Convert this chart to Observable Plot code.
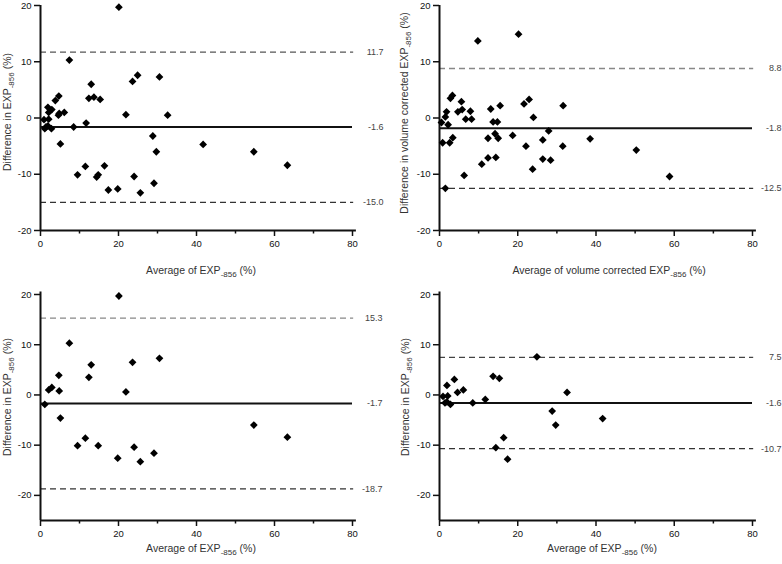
<!DOCTYPE html>
<html><head><meta charset="utf-8">
<script src="https://cdn.jsdelivr.net/npm/d3@7"></script>
<script src="https://cdn.jsdelivr.net/npm/@observablehq/plot@0.6"></script>
<style>
body{margin:0;background:#fff;}
#fig{position:relative;width:782px;height:564px;overflow:hidden;font-family:"Liberation Sans",Arial,sans-serif;background:#fff;}
.panel{position:absolute;}
.lab{position:absolute;font-size:10.5px;color:#333;white-space:nowrap;line-height:1;}
.lab sub{font-size:8px;vertical-align:-3px;line-height:0;}
.ylab{transform:translate(-50%,-50%) rotate(-90deg);}
.xlab{transform:translate(-50%,-50%);}
</style></head>
<body>
<div id="fig"></div>
<script>
// ---- Data ----
// Group A (bottom-left panel)
const avgA  = [20.1, 7.4, 13.0, 23.6, 30.5, 12.4, 4.7, 4.8, 2.1, 2.9, 21.9, 1.1, 5.1, 9.5, 11.5, 14.8, 19.8, 24.0, 25.6, 29.1, 54.7, 63.3];
const diffA = [19.7, 10.3, 6.0, 6.5, 7.3, 3.5, 3.9, 0.8, 1.0, 1.5, 0.6, -1.9, -4.6, -10.1, -8.6, -10.1, -12.6, -10.4, -13.3, -11.6, -6.0, -8.4];
// Group B (bottom-right panel)
const avgB  = [24.9, 13.7, 15.3, 3.8, 6.1, 4.6, 1.9, 32.6, 0.9, 2.1, 1.4, 1.9, 2.8, 8.5, 11.7, 28.8, 29.7, 16.4, 14.4, 17.4, 41.7];
const diffB = [7.6, 3.7, 3.3, 3.1, 1.0, 0.5, 1.9, 0.5, -0.3, -0.2, -1.6, -1.4, -1.9, -1.6, -0.9, -3.2, -6.0, -8.5, -10.5, -12.8, -4.7];
// Volume corrected (top-right panel)
const avgVol  = [20.2, 9.8, 3.3, 2.8, 5.6, 22.9, 21.6, 31.6, 15.5, 13.1, 5.8, 4.7, 7.9, 1.8, 1.5, 24.0, 6.7, 8.2, 0.5, 2.2, 13.7, 14.8, 27.9, 3.4, 12.4, 14.2, 15.0, 18.7, 26.4, 38.5, 0.8, 2.6, 6.3, 1.5, 10.8, 12.4, 14.4, 22.1, 23.8, 26.4, 28.4, 31.5, 50.3, 58.8];
const diffVol = [14.9, 13.7, 4.0, 3.5, 2.9, 3.3, 2.5, 2.2, 2.2, 1.6, 1.5, 1.1, 1.2, 1.1, 0.2, 0.1, -0.2, -0.2, -0.8, -1.2, -0.7, -0.7, -2.3, -3.5, -3.6, -2.8, -3.6, -3.1, -3.9, -3.7, -4.4, -4.4, -10.2, -12.5, -8.2, -7.1, -7.0, -5.0, -9.1, -7.3, -7.5, -5.0, -5.7, -10.4];
// Limits of agreement [upper, mean, lower]
const loaAll = [11.7, -1.6, -15.0];
const loaVol = [8.8, -1.8, -12.5];
const loaA   = [15.3, -1.7, -18.7];
const loaB   = [7.5, -1.6, -10.7];
// Tick values
const xTicks = [0, 20, 40, 60, 80];
const xMinor = [10, 30, 50, 70];
const yTicks = [-20, -10, 0, 10, 20];

const fig = document.getElementById("fig");

function panel(o) {
  const pts = o.avg.map((a, i) => ({avg: a, diff: o.diff[i]}));
  const p = Plot.plot({
    width: o.width, height: o.height,
    marginLeft: o.ml, marginRight: o.mr, marginTop: o.mt, marginBottom: o.mb,
    x: {domain: [0, 80]},
    y: {domain: o.yDomain},
    style: {fontFamily: "Liberation Sans, Arial, sans-serif", fontSize: "9.5px", color: "#111", background: "transparent", overflow: "visible"},
    marks: [
      Plot.ruleY([o.loa[0]], {x1: 0, x2: 80.3, stroke: o.upperColor, strokeWidth: 1.3, strokeDasharray: "6,4"}),
      Plot.ruleY([o.loa[2]], {x1: 0, x2: 80.3, stroke: "#333", strokeWidth: 1.2, strokeDasharray: "6,4"}),
      Plot.ruleY([o.loa[1]], {x1: 0, x2: 80, stroke: "#111", strokeWidth: 2}),
      Plot.text(o.loa, {x: 80, y: d => d, text: d => d.toFixed(1), dx: o.labDx, textAnchor: "end", fontSize: 9, fill: "#444"}),
      Plot.axisX({ticks: xTicks, tickSize: 6, tickPadding: 4, tickFormat: d => String(d), label: null, strokeWidth: 1.5}),
      Plot.axisX({ticks: xMinor, tickSize: 3.5, tickFormat: () => "", label: null, strokeWidth: 1.5}),
      Plot.axisY({ticks: yTicks, tickSize: 6, tickPadding: 3, tickFormat: d => String(d), label: null, strokeWidth: 1.5}),
      Plot.ruleX([0], {y1: o.yDomain[0], y2: o.yTop, stroke: "#111", strokeWidth: 2}),
      Plot.ruleY([o.yDomain[0]], {x1: 0, x2: 81, stroke: "#111", strokeWidth: 2}),
      Plot.dot(pts, {x: "avg", y: "diff", symbol: "diamond2", r: 3.5, fill: "#000", stroke: "none"})
    ]
  });
  const d = document.createElement("div");
  d.className = "panel";
  d.style.left = o.left + "px";
  d.style.top = o.top + "px";
  d.appendChild(p);
  fig.appendChild(d);
  const xl = document.createElement("div");
  xl.className = "lab xlab";
  xl.style.left = o.xlab[0] + "px"; xl.style.top = o.xlab[1] + "px";
  xl.innerHTML = o.xtext;
  fig.appendChild(xl);
  const yl = document.createElement("div");
  yl.className = "lab ylab";
  yl.style.left = o.ylab[0] + "px"; yl.style.top = o.ylab[1] + "px";
  yl.innerHTML = o.ytext;
  fig.appendChild(yl);
}

const sub = "<sub>-856</sub>";

panel({avg: avgA.concat(avgB), diff: diffA.concat(diffB), loa: loaAll, yDomain: [-20, 20], yTop: 20,
  width: 391, height: 290, ml: 40, mr: 39, mt: 5, mb: 60, left: 0, top: 0, labDx: 31, upperColor: "#555",
  xlab: [201, 270], ylab: [7, 112],
  xtext: "Average of EXP" + sub + " (%)", ytext: "Difference in EXP" + sub + " (%)"});

panel({avg: avgVol, diff: diffVol, loa: loaVol, yDomain: [-20, 20], yTop: 20,
  width: 383, height: 290, ml: 40, mr: 30, mt: 5, mb: 60, left: 399, top: 0, labDx: 29, upperColor: "#888",
  xlab: [609, 270], ylab: [404, 113],
  xtext: "Average of volume corrected EXP" + sub + " (%)", ytext: "Difference in volume corrected EXP" + sub + " (%)"});

panel({avg: avgA, diff: diffA, loa: loaA, yDomain: [-25, 20], yTop: 20.5,
  width: 391, height: 274, ml: 40, mr: 39, mt: 4, mb: 44, left: 0, top: 290, labDx: 30, upperColor: "#888",
  xlab: [201, 548], ylab: [7, 397],
  xtext: "Average of EXP" + sub + " (%)", ytext: "Difference in EXP" + sub + " (%)"});

panel({avg: avgB, diff: diffB, loa: loaB, yDomain: [-25, 20], yTop: 20.5,
  width: 383, height: 274, ml: 40, mr: 30, mt: 4, mb: 44, left: 399, top: 290, labDx: 29, upperColor: "#444",
  xlab: [602, 548], ylab: [405, 397],
  xtext: "Average of EXP" + sub + " (%)", ytext: "Difference in EXP" + sub + " (%)"});
</script>
</body></html>
